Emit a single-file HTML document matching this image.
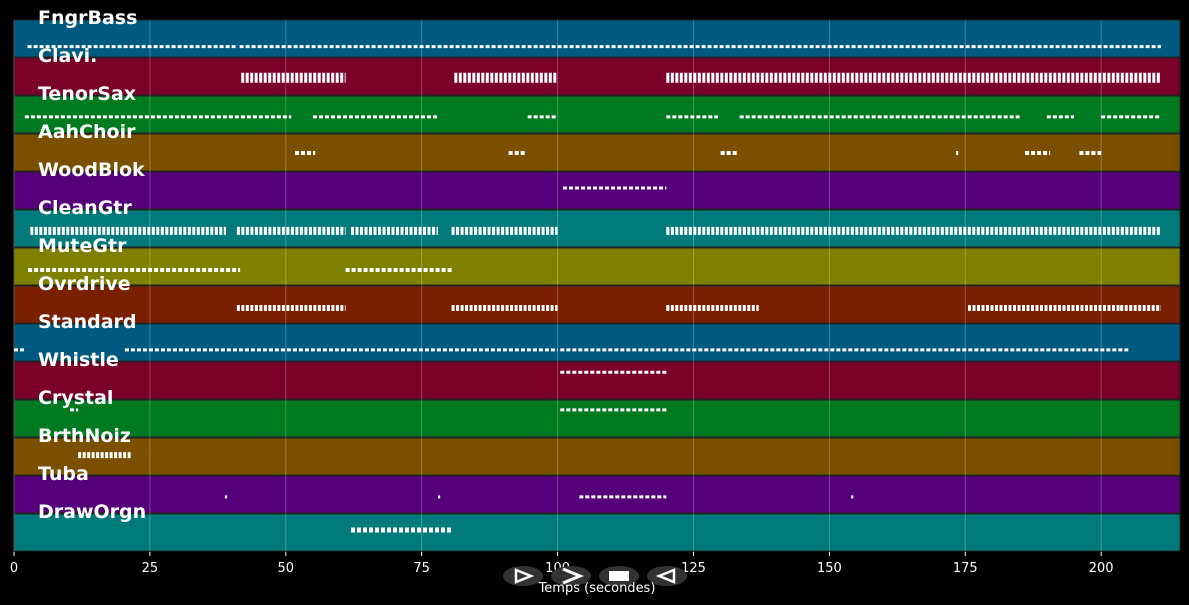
<!DOCTYPE html>
<html><head><meta charset="utf-8"><style>
html,body{margin:0;padding:0;background:#000;width:1189px;height:605px;overflow:hidden}
svg{display:block}
text{font-family:"DejaVu Sans","Liberation Sans",sans-serif}
</style></head><body>
<svg id="chart" width="1189" height="605" viewBox="0 0 1189 605" xmlns="http://www.w3.org/2000/svg">
<g id="rows"></g><g id="grid"></g><g id="notes"></g><g id="labels"></g><g id="axis"></g>
<g>
<g><ellipse cx="523" cy="576" rx="20" ry="10" fill="#333"/><path d="M516 570 L531 576 L516 582 Z" fill="none" stroke="#fff" stroke-width="2.5"/></g>
<g><ellipse cx="571" cy="576" rx="20" ry="10" fill="#333"/><path d="M563 569 L580 576 L563 583" fill="none" stroke="#fff" stroke-width="3"/></g>
<g><ellipse cx="619" cy="576" rx="20" ry="10" fill="#333"/><rect x="609" y="571" width="20" height="10" fill="#fff"/></g>
<g><ellipse cx="667" cy="576" rx="20" ry="10" fill="#333"/><path d="M674 570 L659 576 L674 582 Z" fill="none" stroke="#fff" stroke-width="2.5"/></g>
</g>
<text x="597" y="592" fill="#fff" font-size="13" text-anchor="middle">Temps (secondes)</text>
</svg>
<script>
const tracks=["FngrBass","Clavi.","TenorSax","AahChoir","WoodBlok","CleanGtr","MuteGtr","Ovrdrive","Standard","Whistle","Crystal","BrthNoiz","Tuba","DrawOrgn"];
const rowColors=["#005a80","#7a0028","#007a20","#7a5000","#55007a","#007a7a","#808000","#7a2000","#005a80","#7a0028","#007a20","#7a5000","#55007a","#007a7a"];
const xTicks=[0,25,50,75,100,125,150,175,200];
const noteY=[0.7,0.52,0.55,0.5,0.42,0.55,0.58,0.58,0.68,0.27,0.26,0.45,0.55,0.42];
const noteH=[3,10,3,4,3,8,4,6,3,3,3,6,3,5];
const seg0=[[2.5,41],[41.5,211]];
const seg1=[[41.8,61],[81,100],[120,211]];
const seg2=[[2,51],[55,78],[94.5,100],[120,129.5],[133.5,185],[190,195],[200,211]];
const seg3=[[51.7,55.4],[91,94],[130,133],[173.3,173.7],[186,190.6],[196,200]];
const seg4=[[101,120]];
const seg5=[[3,39],[41,61],[62,78],[80.5,100],[120,211]];
const seg6=[[2.6,41.6],[61,80.6]];
const seg7=[[41,61],[80.5,100],[120,137],[175.5,203.5],[203.5,211]];
const seg8=[[0,2],[20.4,100],[100.5,205]];
const seg9=[[100.5,120]];
const seg10=[[10.3,11.8],[100.5,120]];
const seg11=[[11.8,21.7]];
const seg12=[[38.8,39.2],[78,78.4],[104,120],[154,154.4]];
const seg13=[[62,80.6]];
const segments=[seg0,seg1,seg2,seg3,seg4,seg5,seg6,seg7,seg8,seg9,seg10,seg11,seg12,seg13];

const X0=14,X1=1180,TMAX=214.5,TOP=20,RH=38;
const xs=t=>X0+(t/TMAX)*(X1-X0);
const rowTop=i=>TOP+i*RH;
const NS="http://www.w3.org/2000/svg";
function mk(tag,attrs,parent){const e=document.createElementNS(NS,tag);for(const k in attrs)e.setAttribute(k,attrs[k]);parent.appendChild(e);return e;}
const rows=document.getElementById('rows'),grid=document.getElementById('grid'),notes=document.getElementById('notes'),labels=document.getElementById('labels'),axis=document.getElementById('axis');
tracks.forEach((name,i)=>{
  const r=mk('rect',{x:X0,y:rowTop(i),width:X1-X0,height:RH-1,fill:rowColors[i],stroke:'#222','stroke-width':1},rows);
  
  
  segments[i].forEach(s=>{
    const x1=xs(s[0]),x2=Math.max(xs(s[1]),x1+2);
    const y=rowTop(i)+noteY[i]*RH;
    const l=mk('line',{x1:x1,x2:x2,y1:y,y2:y,stroke:'#fff','stroke-width':noteH[i],'stroke-dasharray':noteH[i]>=6?'3 1.5':'4 2'},notes);
    
    
  });
  const t=mk('text',{x:38,y:rowTop(i)+4,fill:'#fff','font-size':19,'font-weight':'bold'},labels);
  t.textContent=name;
  
  
});
xTicks.forEach(v=>{
  const x=xs(v);
  const g=mk('line',{x1:x,x2:x,y1:TOP,y2:TOP+RH*tracks.length,stroke:'rgba(255,255,255,0.25)','stroke-width':1},grid);
  
  
  const tk=mk('line',{x1:x,x2:x,y1:552,y2:556,stroke:'#fff'},axis);
  
  
  const tl=mk('text',{x:x,y:572,fill:'#fff','font-size':13,'text-anchor':'middle'},axis);
  tl.textContent=v;
  
  
});
</script>
</body></html>
